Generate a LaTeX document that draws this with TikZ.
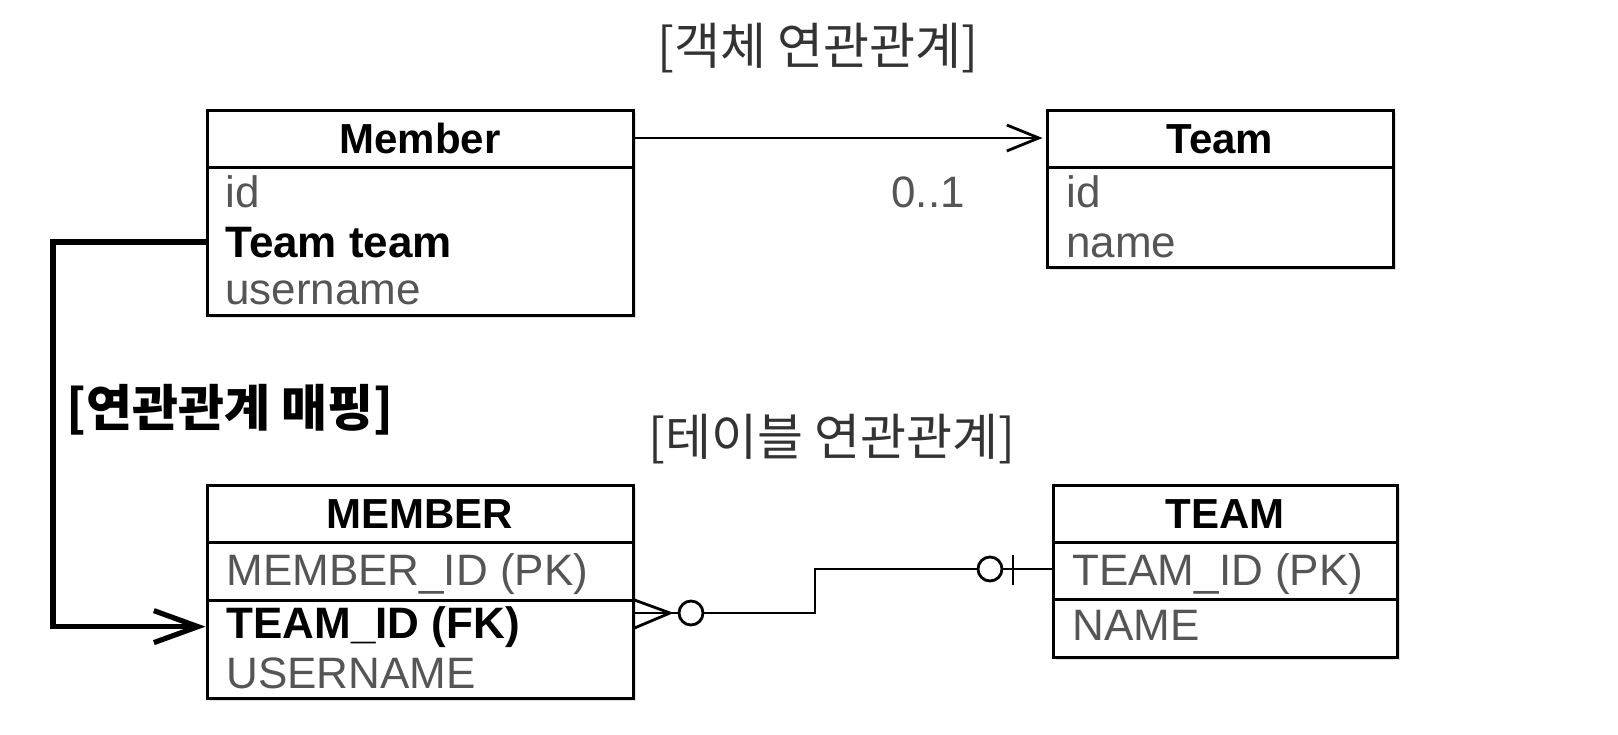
\documentclass[tikz,border=0pt]{standalone}
\usepackage{fontspec}
\setmainfont{Liberation Sans}
\newfontfamily\kr{Noto Sans CJK KR}
\usetikzlibrary{arrows.meta,fit,shadows}
\definecolor{fieldgray}{HTML}{555555}
\definecolor{titlegray}{HTML}{333333}
\tikzset{
  tablebox/.style={draw, line width=1.5pt, fill=white, inner sep=0pt,
    drop shadow={opacity=0.25, shadow xshift=1.5pt, shadow yshift=-1.5pt}},
  headtxt/.style={font=\fontsize{21}{25}\selectfont\bfseries, inner sep=0pt, anchor=base},
  fieldtxt/.style={font=\fontsize{22}{26}\selectfont, text=fieldgray, inner sep=0pt, anchor=base west},
  keytxt/.style={fieldtxt, text=black, font=\fontsize{22}{26}\selectfont\bfseries},
  titletxt/.style={font=\kr\fontsize{25}{29}\selectfont, text=titlegray, inner sep=0pt},
  divline/.style={line width=1.5pt},
  assoc/.style={line width=1.4pt, -{Straight Barb[length=16pt,width=13pt]}},
  maparrow/.style={line width=2.6pt, -{Straight Barb[length=22pt,width=16pt]}},
  erline/.style={line width=1.4pt},
  ercircle/.style={circle, draw, line width=1.4pt, inner sep=0pt, minimum size=12pt},
}
\begin{document}
\begin{tikzpicture}[x=0.5pt,y=-0.5pt]
\useasboundingbox (0,0) rectangle (1618,734);

% Titles
\node[titletxt] (objtitle) at (818,48) {[객체 연관관계]};
\node[titletxt] (tabletitle) at (832,439) {[테이블 연관관계]};
\node[titletxt, font=\kr\bfseries\fontsize{25}{29}\selectfont, text=black] (maptitle) at (230,410) {[연관관계 매핑]};

% Object: Member
\node[tablebox, fit={(207,110) (633,315)}] (member) {};
\draw[divline] (member.west |- 0,167) -- (member.east |- 0,167);
\node[headtxt] (memberhead) at (420,153) {Member};
\node[fieldtxt] (memberid) at (225,207) {id};
\node[keytxt] (memberteam) at (225,257) {Team team};
\node[fieldtxt] (membername) at (225,304) {username};

% Object: Team
\node[tablebox, fit={(1047,110) (1393,267)}] (team) {};
\draw[divline] (team.west |- 0,167) -- (team.east |- 0,167);
\node[headtxt] (teamhead) at (1220,153) {Team};
\node[fieldtxt] (teamid) at (1066,207) {id};
\node[fieldtxt] (teamname) at (1066,257) {name};

% Table: MEMBER
\node[tablebox, fit={(207,485) (633,698)}] (MEMBERtab) {};
\draw[divline] (MEMBERtab.west |- 0,542) -- (MEMBERtab.east |- 0,542);
\draw[divline] (MEMBERtab.west |- 0,600) -- (MEMBERtab.east |- 0,600);
\node[headtxt] (MEMBERhead) at (420,528) {MEMBER};
\node[fieldtxt] (memberpk) at (226,585) {MEMBER\_ID (PK)};
\node[keytxt] (memberfk) at (226,638) {TEAM\_ID (FK)};
\node[fieldtxt] (memberuser) at (226,688) {USERNAME};

% Table: TEAM
\node[tablebox, fit={(1053,485) (1397,657)}] (TEAMtab) {};
\draw[divline] (TEAMtab.west |- 0,542) -- (TEAMtab.east |- 0,542);
\draw[divline] (TEAMtab.west |- 0,599) -- (TEAMtab.east |- 0,599);
\node[headtxt] (TEAMhead) at (1225,528) {TEAM};
\node[fieldtxt] (teampk) at (1072,585) {TEAM\_ID (PK)};
\node[fieldtxt] (teamcol) at (1072,640) {NAME};

% Association
\draw[assoc, shorten >=1.5pt] (member.east |- memberhead) -- (team.west |- memberhead);
\node[fieldtxt, anchor=base] (mult) at (928,207) {0..1};

% Mapping
\coordinate (mapx) at (53,0);
\draw[maparrow] (member.west |- memberteam) -- (mapx |- memberteam) -- (mapx |- memberfk) -- (MEMBERtab.west |- memberfk);

% Crow's foot
\coordinate (crowtip) at (670,613);
\node[ercircle] (fkopt) at (691,613) {};
\node[ercircle] (pkopt) at (990,569) {};
\draw[erline] (MEMBERtab.east |- 0,600) -- (crowtip) -- (MEMBERtab.east |- 0,628);
\draw[erline] (MEMBERtab.east |- crowtip) -- (fkopt);
\draw[erline] (fkopt) -- (815,613) |- (pkopt);
\draw[erline] (pkopt) -- (TEAMtab.west |- pkopt);
\draw[erline] (1013,555) -- (1013,585);
\end{tikzpicture}
\end{document}
